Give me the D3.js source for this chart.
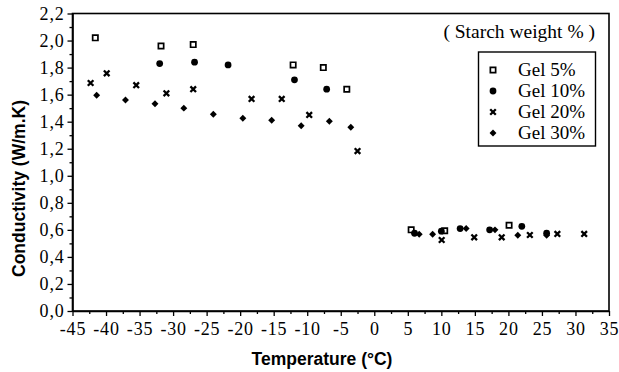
<!DOCTYPE html>
<html>
<head>
<meta charset="utf-8">
<script src="https://cdn.jsdelivr.net/npm/d3@7"></script>
<style>
  body { margin: 0; background: #fff; }
  svg { display: block; }
</style>
</head>
<body>
<div id="chart"></div>
<script>
// Conductivity vs temperature, starch gels

// data: [temperature, conductivity]
const gel5 = [[-41.6, 2.02], [-31.8, 1.96], [-27.0, 1.97], [-12.1, 1.82], [-7.6, 1.80], [-4.1, 1.64],
              [5.5, 0.60], [10.5, 0.594], [20.1, 0.634]];
const gel10 = [[-32.0, 1.83], [-26.8, 1.84], [-21.8, 1.82], [-11.9, 1.71], [-7.1, 1.64],
               [6.0, 0.575], [10.0, 0.59], [12.8, 0.61], [17.2, 0.60], [22.0, 0.626], [25.7, 0.575]];
const gel20 = [[-42.3, 1.686], [-39.9, 1.758], [-35.5, 1.67], [-31.0, 1.61], [-27.0, 1.64], [-18.3, 1.568],
               [-13.8, 1.568], [-9.7, 1.45], [-2.5, 1.183],
               [10.05, 0.525], [14.9, 0.545], [19.0, 0.545], [23.2, 0.562], [27.3, 0.57], [31.3, 0.57]];
const gel30 = [[-41.4, 1.595], [-37.1, 1.56], [-32.7, 1.533], [-28.4, 1.50], [-24.0, 1.455], [-19.6, 1.425],
               [-15.3, 1.41], [-10.9, 1.37], [-6.7, 1.403], [-3.5, 1.359],
               [6.7, 0.567], [8.7, 0.567], [13.7, 0.61], [18.0, 0.60], [21.4, 0.56], [25.7, 0.56]];

const xTicks = [-45, -40, -35, -30, -25, -20, -15, -10, -5, 0, 5, 10, 15, 20, 25, 30, 35];
const yTicks = [0, 0.2, 0.4, 0.6, 0.8, 1.0, 1.2, 1.4, 1.6, 1.8, 2.0, 2.2];
const legendLabels = ['Gel 5%', 'Gel 10%', 'Gel 20%', 'Gel 30%'];
const legendTitle = '( Starch weight % )';

const width = 619, height = 372;
const margin = { left: 72.5, right: 10, top: 13.5, bottom: 61 };

const serif = '"Liberation Serif", "Times New Roman", serif';
const sans = '"Liberation Sans", Arial, sans-serif';

const svg = d3.select('#chart').append('svg')
    .attr('width', width)
    .attr('height', height);

const x = d3.scaleLinear().domain([-45, 35]).range([margin.left, width - margin.right]);
const y = d3.scaleLinear().domain([0, 2.2]).range([height - margin.bottom, margin.top]);

// minor ticks
const xMinor = d3.range(-42.5, 35, 5);
const yMinor = d3.range(0.1, 2.2, 0.2);

// axes
const xAxis = svg.append('g')
    .attr('transform', `translate(0,${y(0)})`)
    .call(d3.axisBottom(x).tickValues(xTicks).tickSize(5).tickSizeOuter(0)
        .tickFormat(d => d < 0 ? '-' + Math.abs(d) : d))
    .attr('font-family', serif).attr('font-size', 18);
xAxis.selectAll('text')
    .attr('dy', '0.9em')
    .attr('letter-spacing', 0.8)
    .attr('fill', '#000');

svg.append('g')
    .attr('transform', `translate(0,${y(0)})`)
    .call(d3.axisBottom(x).tickValues(xMinor).tickSize(3).tickFormat(''))
    .select('.domain').remove();

const yAxis = svg.append('g')
    .attr('transform', `translate(${x(-45)},0)`)
    .call(d3.axisLeft(y).tickValues(yTicks).tickSize(5).tickSizeOuter(0)
        .tickFormat(d => d3.format('.1f')(d).replace('.', ',')))
    .attr('font-family', serif).attr('font-size', 18);
yAxis.selectAll('text')
    .attr('x', -8)
    .attr('letter-spacing', 0.8)
    .attr('fill', '#000');

svg.append('g')
    .attr('transform', `translate(${x(-45)},0)`)
    .call(d3.axisLeft(y).tickValues(yMinor).tickSize(3).tickFormat(''))
    .select('.domain').remove();

svg.selectAll('.domain').attr('stroke-width', 1.6);
svg.selectAll('.tick line').attr('stroke-width', 1.3);

// frame
svg.append('rect')
    .attr('x', x(-45)).attr('y', y(2.2))
    .attr('width', x(35) - x(-45)).attr('height', y(0) - y(2.2))
    .attr('fill', 'none').attr('stroke', '#000').attr('stroke-width', 1.6);

// axis titles
svg.append('text')
    .attr('x', 322).attr('y', 365)
    .attr('text-anchor', 'middle')
    .style('font-family', sans).style('font-weight', 'bold').style('font-size', '17.5px')
    .text('Temperature (°C)');

svg.append('text')
    .attr('transform', 'translate(25,188.5) rotate(-90)')
    .attr('text-anchor', 'middle')
    .style('font-family', sans).style('font-weight', 'bold').style('font-size', '17.5px')
    .text('Conductivity (W/m.K)');

// marker drawing
const squareSym = d3.symbol().type(d3.symbolSquare).size(28);
const circleSym = d3.symbol().type(d3.symbolCircle).size(36);
const diamondSym = d3.symbol().type(d3.symbolSquare).size(24);
const crossPath = 'M-2.8,-2.8L2.8,2.8M-2.8,2.8L2.8,-2.8';

function drawMarker(sel, kind) {
    if (kind === 'square') {
        sel.attr('d', squareSym()).attr('fill', '#fff').attr('stroke', '#000').attr('stroke-width', 1.7);
    } else if (kind === 'cross') {
        sel.attr('d', crossPath).attr('fill', 'none').attr('stroke', '#000').attr('stroke-width', 2.3);
    } else if (kind === 'diamond') {
        sel.attr('d', diamondSym()).attr('fill', '#000').attr('stroke', 'none');
    } else {
        sel.attr('d', circleSym()).attr('fill', '#000').attr('stroke', 'none');
    }
}

const series = [
    { data: gel5, kind: 'square' },
    { data: gel10, kind: 'circle' },
    { data: gel20, kind: 'cross' },
    { data: gel30, kind: 'diamond' }
];

function place(kind, px, py) {
    return kind === 'diamond' ? `translate(${px},${py}) rotate(45)` : `translate(${px},${py})`;
}

series.forEach(s => {
    svg.append('g').selectAll('path')
        .data(s.data)
        .enter().append('path')
        .attr('transform', d => place(s.kind, x(d[0]), y(d[1])))
        .call(drawMarker, s.kind);
});

// legend
svg.append('text')
    .attr('x', 595).attr('y', 38)
    .attr('text-anchor', 'end')
    .style('font-family', serif).style('font-size', '19.5px')
    .text(legendTitle);

const legend = svg.append('g');
legend.append('rect')
    .attr('x', 478.5).attr('y', 52)
    .attr('width', 117).attr('height', 94)
    .attr('fill', '#fff').attr('stroke', '#000').attr('stroke-width', 1.4);

legendLabels.forEach((label, i) => {
    const ly = 70 + i * 21;
    legend.append('path')
        .attr('transform', place(series[i].kind, 493, ly))
        .call(drawMarker, series[i].kind);
    legend.append('text')
        .attr('x', 518).attr('y', ly + 6)
        .style('font-family', serif).style('font-size', '19px')
        .text(label);
});
</script>
</body>
</html>
